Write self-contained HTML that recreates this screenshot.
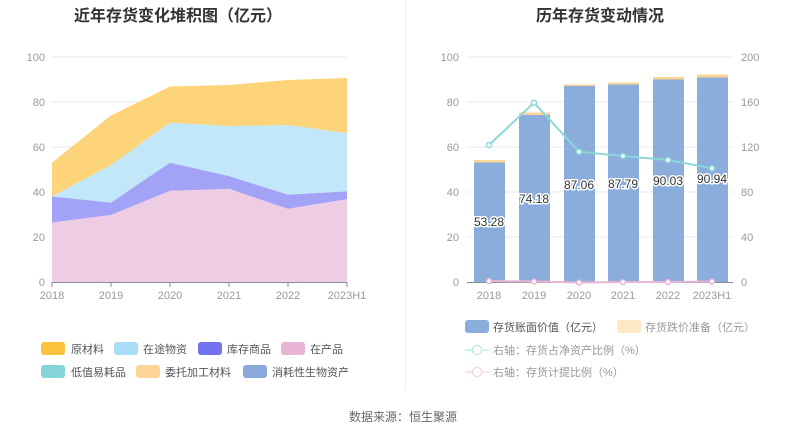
<!DOCTYPE html>
<html><head><meta charset="utf-8"><style>
body{margin:0;background:#fff;}
svg{display:block;font-family:"Liberation Sans","Noto Sans CJK SC",sans-serif;}
</style></head><body>
<svg width="807" height="436" viewBox="0 0 807 436" xmlns="http://www.w3.org/2000/svg">
<rect width="807" height="436" fill="#fff"/>
<line x1="405.5" y1="0" x2="405.5" y2="390" stroke="#eee"/>
<text x="178" y="21" font-size="16" font-weight="bold" fill="#333" text-anchor="middle">近年存货变化堆积图（亿元）</text>
<text x="600" y="21" font-size="16" font-weight="bold" fill="#333" text-anchor="middle">历年存货变动情况</text>
<!-- left grid -->
<g stroke="#e6eaf2" stroke-width="1">
<line x1="52" y1="57" x2="347" y2="57"/><line x1="52" y1="102" x2="347" y2="102"/><line x1="52" y1="147" x2="347" y2="147"/><line x1="52" y1="192" x2="347" y2="192"/><line x1="52" y1="237" x2="347" y2="237"/>
</g>
<g font-size="11" fill="#999" text-anchor="end">
<text x="45" y="61">100</text><text x="45" y="106">80</text><text x="45" y="151">60</text><text x="45" y="196">40</text><text x="45" y="241">20</text><text x="45" y="286">0</text>
</g>
<polygon fill="#fdd47a" points="52,162.6 111,115.5 170,86.5 229,85 288,80 347,78 347,133.3 288,125 229,126.1 170,122.75 111,165.05 52,196.5"/>
<polygon fill="#c2e7f8" points="52,196.5 111,165.05 170,122.75 229,126.1 288,125 347,133.3 347,191.4 288,194.75 229,176.1 170,162.8 111,202.6 52,196.5"/>
<polygon fill="#a2a3f6" points="52,196.5 111,202.6 170,162.8 229,176.1 288,194.75 347,191.4 347,199.3 288,208.9 229,188.9 170,190.9 111,215 52,222.6"/>
<polygon fill="#eecce3" points="52,222.6 111,215 170,190.9 229,188.9 288,208.9 347,199.3 347,282.5 52,282.5"/>
<line x1="52" y1="282.5" x2="347" y2="282.5" stroke="#8a8a9a"/>
<g stroke="#8a8a9a"><line x1="52" y1="282" x2="52" y2="287"/><line x1="111" y1="282" x2="111" y2="287"/><line x1="170" y1="282" x2="170" y2="287"/><line x1="229" y1="282" x2="229" y2="287"/><line x1="288" y1="282" x2="288" y2="287"/><line x1="347" y1="282" x2="347" y2="287"/></g>
<g font-size="11" fill="#999" text-anchor="middle">
<text x="52" y="299">2018</text><text x="111" y="299">2019</text><text x="170" y="299">2020</text><text x="229" y="299">2021</text><text x="288" y="299">2022</text><text x="347" y="299">2023H1</text>
</g>
<!-- left legend -->
<g font-size="11" fill="#555">
<rect x="41" y="342" width="24" height="13" rx="3" fill="#fbc240"/><text x="71" y="353">原材料</text>
<rect x="114" y="342" width="24" height="13" rx="3" fill="#a8def8"/><text x="143" y="353">在途物资</text>
<rect x="198" y="342" width="24" height="13" rx="3" fill="#7373f0"/><text x="227" y="353">库存商品</text>
<rect x="281" y="342" width="24" height="13" rx="3" fill="#e8b5d8"/><text x="310" y="353">在产品</text>
<rect x="41" y="365" width="24" height="13" rx="3" fill="#85d5d8"/><text x="71" y="376">低值易耗品</text>
<rect x="136" y="365" width="24" height="13" rx="3" fill="#fdd597"/><text x="165" y="376">委托加工材料</text>
<rect x="243" y="365" width="24" height="13" rx="3" fill="#8aaadc"/><text x="272" y="376">消耗性生物资产</text>
</g>
<!-- right grid -->
<g stroke="#e6eaf2">
<line x1="467" y1="57" x2="733" y2="57"/><line x1="467" y1="102" x2="733" y2="102"/><line x1="467" y1="147" x2="733" y2="147"/><line x1="467" y1="192" x2="733" y2="192"/><line x1="467" y1="237" x2="733" y2="237"/>
</g>
<g font-size="11" fill="#999" text-anchor="end">
<text x="459" y="61">100</text><text x="459" y="106">80</text><text x="459" y="151">60</text><text x="459" y="196">40</text><text x="459" y="241">20</text><text x="459" y="286">0</text>
</g>
<g font-size="11" fill="#999" text-anchor="start">
<text x="741" y="61">200</text><text x="741" y="106">160</text><text x="741" y="151">120</text><text x="741" y="196">80</text><text x="741" y="241">40</text><text x="741" y="286">0</text>
</g>
<g fill="#fdd597">
<rect x="474" y="160" width="31" height="3"/><rect x="519" y="112.5" width="31" height="3"/><rect x="564" y="84.5" width="31" height="2"/><rect x="608" y="82.5" width="31" height="2"/><rect x="653" y="77" width="31" height="3"/><rect x="697" y="74.5" width="31" height="3"/>
</g>
<g fill="#8aaddb">
<rect x="474" y="162.5" width="31" height="120"/><rect x="519" y="115" width="31" height="167.5"/><rect x="564" y="86" width="31" height="196.5"/><rect x="608" y="84.5" width="31" height="198"/><rect x="653" y="79.5" width="31" height="203"/><rect x="697" y="77.5" width="31" height="205"/>
</g>
<line x1="467" y1="282.5" x2="733" y2="282.5" stroke="#8a8a9a"/>
<polyline fill="none" stroke="#8ad8d8" stroke-width="2" points="489,145 534,102.7 579,151.7 623,156 668,160 712,168.3"/>
<g fill="#fff" stroke="#8ad8d8" stroke-width="1.5">
<circle cx="489" cy="145" r="2.5"/><circle cx="534" cy="102.7" r="2.5"/><circle cx="579" cy="151.7" r="2.5"/><circle cx="623" cy="156" r="2.5"/><circle cx="668" cy="160" r="2.5"/><circle cx="712" cy="168.3" r="2.5"/>
</g>
<polyline fill="none" stroke="#e8b5d8" stroke-width="2" points="489,281 534,281.5 579,282.5 623,282 668,282 712,281.5"/>
<g fill="#fff" stroke="#e8b5d8" stroke-width="1.5">
<circle cx="489" cy="281" r="2.5"/><circle cx="534" cy="281.5" r="2.5"/><circle cx="579" cy="282.5" r="2.5"/><circle cx="623" cy="282" r="2.5"/><circle cx="668" cy="282" r="2.5"/><circle cx="712" cy="281.5" r="2.5"/>
</g>
<g font-size="12" fill="#333" text-anchor="middle" stroke="#fff" stroke-width="3" paint-order="stroke">
<text x="489" y="226">53.28</text><text x="534" y="203">74.18</text><text x="579" y="189">87.06</text><text x="623" y="188">87.79</text><text x="668" y="185">90.03</text><text x="712" y="183">90.94</text>
</g>
<g font-size="11" fill="#999" text-anchor="middle">
<text x="489" y="299">2018</text><text x="534" y="299">2019</text><text x="579" y="299">2020</text><text x="623" y="299">2021</text><text x="668" y="299">2022</text><text x="712" y="299">2023H1</text>
</g>
<!-- right legend -->
<g font-size="11" fill="#999">
<rect x="465" y="320" width="24" height="13" rx="3" fill="#8aaddb"/><text x="493" y="331" fill="#555">存货账面价值（亿元）</text>
<rect x="617" y="320" width="24" height="13" rx="3" fill="#fde8c8"/><text x="645" y="331">存货跌价准备（亿元）</text>
<line x1="465" y1="350" x2="489" y2="350" stroke="#a8e2e2"/><circle cx="477" cy="350" r="4.5" fill="#fff" stroke="#a8e2e2"/><text x="493" y="354">右轴：存货占净资产比例（%）</text>
<line x1="465" y1="372" x2="489" y2="372" stroke="#f0c8e2"/><circle cx="477" cy="372" r="4.5" fill="#fff" stroke="#f0c8e2"/><text x="493" y="376">右轴：存货计提比例（%）</text>
</g>
<text x="403" y="421" font-size="12" fill="#666" text-anchor="middle">数据来源：恒生聚源</text>
</svg>
</body></html>
